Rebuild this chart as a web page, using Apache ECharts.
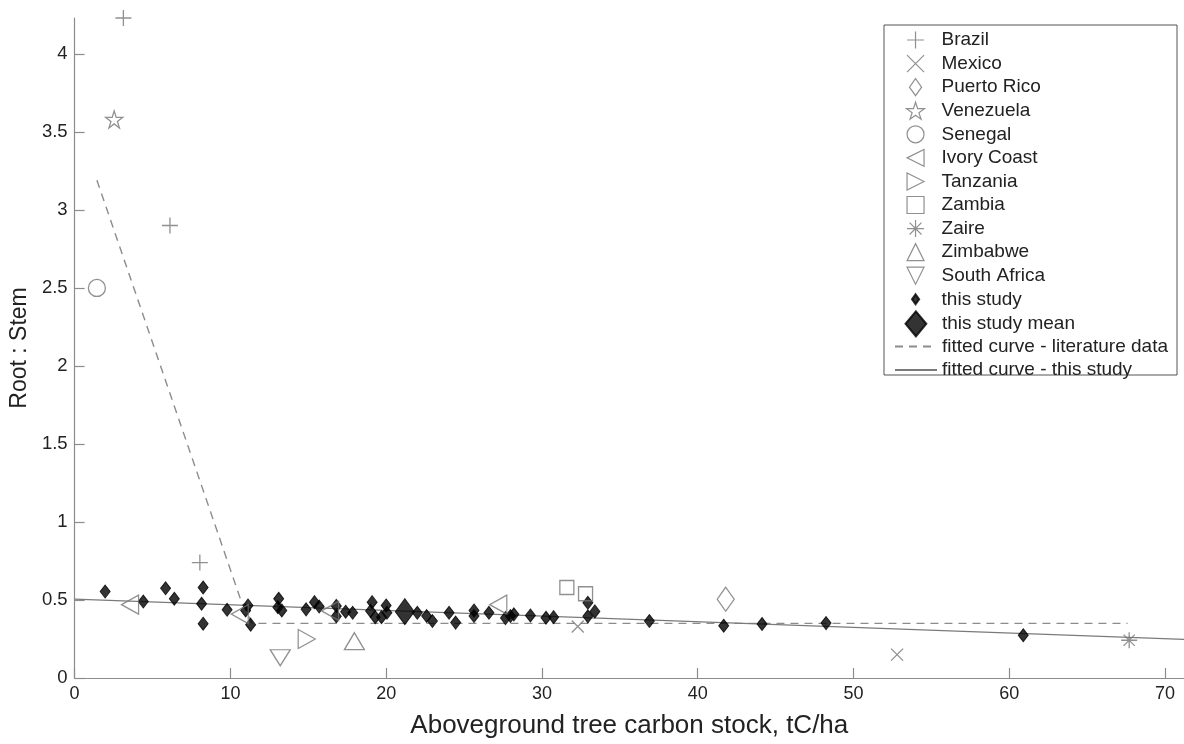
<!DOCTYPE html>
<html>
<head>
<meta charset="utf-8">
<script src="https://cdn.jsdelivr.net/npm/echarts@6/dist/echarts.min.js"></script>
<style>
html,body{margin:0;padding:0;background:#fff;}
#chart{width:1184px;height:744px;}
</style>
</head>
<body>
<div id="chart"></div>
<script>
// ---- Data (x = aboveground tree carbon stock tC/ha, y = root:stem) ----
const brazil = [[3.13, 4.23], [6.12, 2.90], [8.04, 0.74]];
const mexico = [[32.3, 0.33], [52.8, 0.15]];
const puertoRico = [[41.8, 0.505]];
const venezuela = [[2.54, 3.58]];
const senegal = [[1.43, 2.50]];
const ivoryCoast = [[3.56, 0.47], [10.6, 0.41], [16.4, 0.43], [27.2, 0.47]];
const tanzania = [[14.9, 0.25]];
const zambia = [[31.6, 0.58], [32.8, 0.54]];
const zaire = [[67.7, 0.242]];
const zimbabwe = [[17.96, 0.236]];
const southAfrica = [[13.2, 0.13]];
const thisStudy = [
  [1.96, 0.554], [4.41, 0.49], [5.84, 0.575], [6.40, 0.508], [8.25, 0.58], [8.15, 0.476], [8.25, 0.348],
  [9.79, 0.437], [11.13, 0.465], [10.98, 0.433], [11.3, 0.342], [13.1, 0.508], [13.05, 0.454], [13.3, 0.433],
  [14.86, 0.44], [15.4, 0.486], [15.7, 0.458], [16.8, 0.462], [16.8, 0.395], [17.4, 0.425], [17.85, 0.418],
  [19.1, 0.486], [19.0, 0.43], [19.3, 0.39], [19.7, 0.39], [20.0, 0.465], [20.05, 0.418], [22.0, 0.418],
  [22.6, 0.397], [22.97, 0.365], [24.04, 0.418], [24.46, 0.355], [25.64, 0.433], [25.64, 0.397], [26.6, 0.418],
  [27.66, 0.384], [27.98, 0.397], [28.2, 0.408], [29.26, 0.401], [30.26, 0.386], [30.75, 0.39], [32.95, 0.482],
  [33.4, 0.427], [32.95, 0.395], [36.9, 0.365], [41.67, 0.335], [44.13, 0.346], [48.24, 0.352], [60.9, 0.274]
];
const thisStudyMean = [[21.2, 0.425]];
const fitLiterature = [[1.43, 3.19], [10.65, 0.505], [11.4, 0.35], [67.6, 0.35]];
const fitThisStudy = [[0, 0.505], [71.22, 0.247]];
const xTicks = [0, 10, 20, 30, 40, 50, 60, 70];
const yTicks = [0, 0.5, 1, 1.5, 2, 2.5, 3, 3.5, 4];

const litNames = ['Brazil', 'Mexico', 'Puerto Rico', 'Venezuela', 'Senegal', 'Ivory Coast', 'Tanzania', 'Zambia', 'Zaire', 'Zimbabwe', 'South Africa'];

// ---- Styles ----
const FONT = "'Liberation Sans', Arial, Helvetica, sans-serif";
const GREY = '#747474';
const SYM = {
  plus: 'path://M0,-1 L0,1 M-1,0 L1,0',
  cross: 'path://M-1,-1 L1,1 M-1,1 L1,-1',
  diamond: 'path://M0,-1.4 L1,0 L0,1.4 L-1,0 Z',
  star: 'path://M0,-1 L0.223,-0.307 L0.951,-0.309 L0.361,0.117 L0.588,0.809 L0,0.38 L-0.588,0.809 L-0.361,0.117 L-0.951,-0.309 L-0.223,-0.307 Z',
  left: 'path://M-1,0 L1,-1 L1,1 Z',
  right: 'path://M1,0 L-1,-1 L-1,1 Z',
  square: 'path://M-1,-1 L1,-1 L1,1 L-1,1 Z',
  aster: 'path://M0,-1 L0,1 M-1,0 L1,0 M-0.7,-0.7 L0.7,0.7 M-0.7,0.7 L0.7,-0.7',
  up: 'path://M0,-1 L1,1 L-1,1 Z',
  down: 'path://M-1,-1 L1,-1 L0,1 Z'
};

function lit(name, data, symbol, size) {
  return {
    name: name, type: 'scatter', data: data, symbol: symbol, symbolSize: size, z: 5,
    itemStyle: { color: 'rgba(255,255,255,0)', borderColor: GREY, borderWidth: 1.3 },
    emphasis: { disabled: true }
  };
}

const series = [
  { name: 'fitted curve - literature data', type: 'line', data: fitLiterature, symbol: 'none', z: 2,
    lineStyle: { color: '#8c8c8c', width: 1.4, type: [8, 6] }, emphasis: { disabled: true } },
  { name: 'fitted curve - this study', type: 'line', data: fitThisStudy, symbol: 'none', z: 2,
    lineStyle: { color: '#7a7a7a', width: 1.3 }, emphasis: { disabled: true } },
  { name: 'this study', type: 'scatter', data: thisStudy, symbol: SYM.diamond, symbolSize: [10, 13], z: 3,
    itemStyle: { color: '#000', borderColor: '#000', borderWidth: 1 }, emphasis: { disabled: true } },
  { name: 'this study mean', type: 'scatter', data: thisStudyMean, symbol: SYM.diamond, symbolSize: [19, 26], z: 3,
    itemStyle: { color: '#000', borderColor: '#000', borderWidth: 1 }, emphasis: { disabled: true } },
  lit('Brazil', brazil, SYM.plus, 16),
  lit('Mexico', mexico, SYM.cross, 12),
  lit('Puerto Rico', puertoRico, SYM.diamond, [17, 24]),
  lit('Venezuela', venezuela, SYM.star, 17),
  lit('Senegal', senegal, 'circle', 17),
  lit('Ivory Coast', ivoryCoast, SYM.left, [17, 19]),
  lit('Tanzania', tanzania, SYM.right, [17, 19]),
  lit('Zambia', zambia, SYM.square, 14),
  lit('Zaire', zaire, SYM.aster, 16),
  lit('Zimbabwe', zimbabwe, SYM.up, [20, 17]),
  lit('South Africa', southAfrica, SYM.down, [20, 16])
];

const legendText = { fontFamily: FONT, fontSize: 19, color: '#222', lineHeight: 19 };
const legendBase = { orient: 'vertical', padding: 0, itemWidth: 42, selectedMode: false, textStyle: legendText };
const PITCH = 23.57;

const option = {
  animation: false,
  backgroundColor: '#fff',
  grid: { left: 71.5, right: 0, top: 18, bottom: 62 },
  xAxis: {
    type: 'value', min: 0, max: 71.22, interval: 10,
    name: 'Aboveground tree carbon stock, tC/ha', nameLocation: 'middle', nameGap: 35,
    nameTextStyle: { fontFamily: FONT, fontSize: 26, color: '#222' },
    axisLine: { lineStyle: { color: '#8c8c8c', width: 1.2 } },
    axisTick: { inside: true, length: 10, customValues: xTicks, lineStyle: { color: '#8c8c8c', width: 1.2 } },
    axisLabel: { customValues: xTicks, margin: 7, fontFamily: FONT, fontSize: 18, color: '#222' },
    splitLine: { show: false }
  },
  yAxis: {
    type: 'value', min: 0, max: 4.23, interval: 0.5,
    name: 'Root : Stem', nameLocation: 'middle', nameGap: 41,
    nameTextStyle: { fontFamily: FONT, fontSize: 23, color: '#222' },
    axisLine: { show: true, lineStyle: { color: '#8c8c8c', width: 1.2 } },
    axisTick: { show: true, inside: true, length: 10, customValues: yTicks, lineStyle: { color: '#8c8c8c', width: 1.2 } },
    axisLabel: { customValues: yTicks, margin: 7, fontFamily: FONT, fontSize: 18.5, color: '#222' },
    splitLine: { show: false }
  },
  graphic: [{
    type: 'rect', z: 3, silent: true,
    shape: { x: 884, y: 25, width: 293, height: 350 },
    style: { fill: '#fff', stroke: '#555', lineWidth: 1 }
  }],
  legend: [
    Object.assign({}, legendBase, { left: 906, top: 40 - 9.5, itemHeight: 17, itemGap: PITCH - 19, data: litNames,
      itemStyle: { borderWidth: 1.2 } }),
    Object.assign({}, legendBase, { left: 911, top: 40 + 11 * PITCH - 9.5, itemHeight: 10, data: ['this study'] }),
    Object.assign({}, legendBase, { left: 904.5, top: 40 + 12 * PITCH - 12.5, itemHeight: 25,
      data: [{ name: 'this study mean', icon: 'path://M0,-1.2 L1,0 L0,1.2 L-1,0 Z' }] }),
    Object.assign({}, legendBase, { left: 894, top: 40 + 13 * PITCH - 9.5, itemHeight: 17, itemGap: PITCH - 19,
      itemStyle: { color: 'rgba(0,0,0,0)', borderWidth: 0, borderColor: 'rgba(0,0,0,0)' },
      data: ['fitted curve - literature data', 'fitted curve - this study'] })
  ],
  series: series
};

const chart = echarts.init(document.getElementById('chart'), null, { renderer: 'canvas' });
chart.setOption(option);
</script>
</body>
</html>
